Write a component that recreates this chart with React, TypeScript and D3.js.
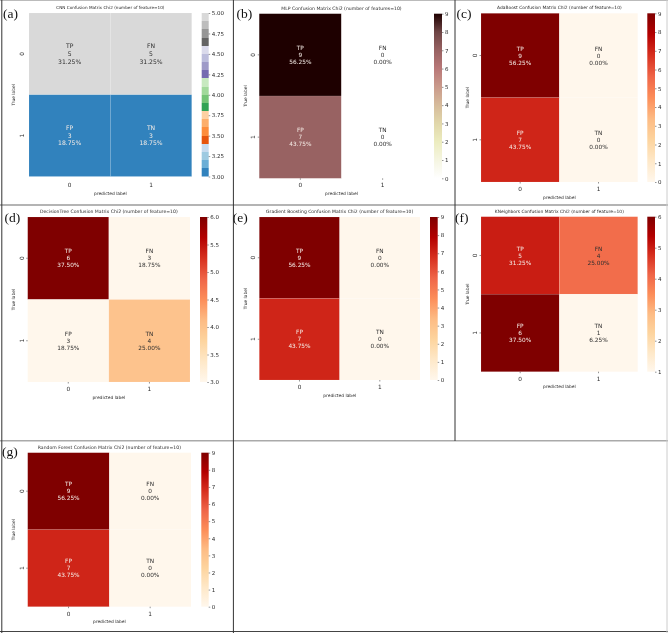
import { useEffect, useRef } from 'react'
import * as d3 from 'd3'

// confusion matrices: [[TP, FN], [FP, TN]]
const cnnValues = [[5, 5], [3, 3]]
const mlpValues = [[9, 0], [7, 0]]
const adaValues = [[9, 0], [7, 0]]
const treeValues = [[6, 3], [3, 4]]
const boostValues = [[9, 0], [7, 0]]
const knnValues = [[5, 4], [6, 1]]
const forestValues = [[9, 0], [7, 0]]

const cellNames = [['TP', 'FN'], ['FP', 'TN']]
const classLabels = ['0', '1']

const cnnTicks = [3, 3.25, 3.5, 3.75, 4, 4.25, 4.5, 4.75, 5]
const treeTicks = [3, 3.5, 4, 4.5, 5, 5.5, 6]
const nineTicks = [0, 1, 2, 3, 4, 5, 6, 7, 8, 9]
const knnTicks = [1, 2, 3, 4, 5, 6]

const orRd = ['#fff7ec', '#fee8c8', '#fdd49e', '#fdbb84', '#fc8d59', '#ef6548', '#d7301f', '#b30000', '#7f0000']
const pinkR = ['#ffffff', '#f5f5e1', '#ececbf', '#e1d7aa', '#d6bb9b', '#ca9a8b', '#b97878', '#986262', '#6e4545', '#1e0000']
const tab20c = [
  '#3182bd', '#6baed6', '#9ecae1', '#c6dbef',
  '#e6550d', '#fd8d3c', '#fdae6b', '#fdd0a2',
  '#31a354', '#74c476', '#a1d99b', '#c7e9c0',
  '#756bb1', '#9e9ac8', '#bcbddc', '#dadaeb',
  '#636363', '#969696', '#bdbdbd', '#d9d9d9'
]

const smooth = (stops: string[]) =>
  d3.piecewise(d3.interpolateRgb, stops)

const discrete = (stops: string[]) => (t: number) =>
  stops[Math.min(stops.length - 1, Math.floor(t * stops.length))]

type Panel = {
  tag: string
  title: string
  titleSize: number
  values: number[][]
  ticks: number[]
  format: string
  stops: string[]
  banded: boolean
  x: [number, number]
  y: [number, number]
  bar: [number, number]
  tagAt: [number, number]
  tickSize: number
  tickPad: number
  annotSize: number
  annotGap: number
  xLabelGap: number
  yLabelGap: number
}

const plain = { tickSize: 1.5, tickPad: 3.5, annotSize: 5.8, annotGap: 7, xLabelGap: 16.5, yLabelGap: 12.5, stops: orRd, banded: false }

const panels: Panel[] = [
  { ...plain, tag: '(a)', title: 'CNN Confusion Matrix Chi2 (number of feature=10)', titleSize: 4.2, values: cnnValues, ticks: cnnTicks, format: '.2f', stops: tab20c, banded: true, x: [29, 191.7], y: [13, 176.5], bar: [201.7, 208.7], tagAt: [3, 18], tickSize: 0, tickPad: 6.5, annotSize: 6.1, annotGap: 7.6, xLabelGap: 18, yLabelGap: 14 },
  { ...plain, tag: '(b)', title: 'MLP Confusion Matrix Chi2 (number of features=10)', titleSize: 4.6, values: mlpValues, ticks: nineTicks, format: 'd', stops: pinkR, x: [259.2, 423.8], y: [13.7, 178.3], bar: [434, 442], tagAt: [236.5, 18] },
  { ...plain, tag: '(c)', title: 'AdaBoost Confusion Matrix Chi2 (number of feature=10)', titleSize: 4.4, values: adaValues, ticks: nineTicks, format: 'd', x: [481, 637.7], y: [13.3, 182], bar: [647.3, 655], tagAt: [456.5, 18] },
  { ...plain, tag: '(d)', title: 'DecisionTree Confusion Matrix Chi2 (number of feature=10)', titleSize: 4.6, values: treeValues, ticks: treeTicks, format: '.1f', x: [27.7, 190], y: [217, 382], bar: [200, 207.3], tagAt: [4.5, 222] },
  { ...plain, tag: '(e)', title: 'Gradient Boosting Confusion Matrix Chi2 (number of feature=10)', titleSize: 4.5, values: boostValues, ticks: nineTicks, format: 'd', x: [259.3, 420], y: [217, 380], bar: [430, 437.7], tagAt: [232.7, 222] },
  { ...plain, tag: '(f)', title: 'KNeighbors Confusion Matrix Chi2 (number of feature=10)', titleSize: 4.4, values: knnValues, ticks: knnTicks, format: 'd', x: [481, 637.7], y: [216.7, 371.7], bar: [647.3, 655], tagAt: [455, 222] },
  { ...plain, tag: '(g)', title: 'Random Forest Confusion Matrix Chi2 (number of feature=10)', titleSize: 4.6, values: forestValues, ticks: nineTicks, format: 'd', x: [27.7, 191], y: [452.7, 606.7], bar: [201.3, 208.7], tagAt: [2, 456] }
]

const sansFont = '"DejaVu Sans", sans-serif'
const inkColor = '#2a2a2a'

const App = () => {
  const svgRef = useRef<SVGSVGElement>(null)

  useEffect(() => {
    if (!svgRef.current) return
    const svg = d3.select(svgRef.current)
    svg.selectAll('*').remove()
    const defs = svg.append('defs')

    // panel frame rules
    const rules = svg.append('g')
    const rule = (x1: number, y1: number, x2: number, y2: number, color: string, width: number) =>
      rules.append('line').attr('x1', x1).attr('y1', y1).attr('x2', x2).attr('y2', y2)
        .attr('stroke', color).attr('stroke-width', width)

    rule(0, 0.5, 668, 0.5, '#bbb', 1)
    rule(0, 205, 668, 205, '#b4b4b4', 2)
    rule(0, 440.7, 668, 440.7, '#aaa', 1.5)
    rule(0, 631.5, 668, 631.5, '#444', 1)
    rule(667, 0, 667, 633, '#ccc', 1)
    rule(1.8, 0, 1.8, 633, '#333', 1)
    rule(233.4, 0, 233.4, 633, '#333', 1)
    rule(455, 0, 455, 441, '#333', 1)

    panels.forEach((p, idx) => {
      const g = svg.append('g')
      const x = d3.scaleBand<string>().domain(classLabels).range(p.x)
      const y = d3.scaleBand<string>().domain(classLabels).range(p.y)
      const extent = d3.extent(p.values.flat()) as [number, number]
      const cmap = p.banded ? discrete(p.stops) : smooth(p.stops)
      const color = d3.scaleSequential(cmap).domain(extent)
      const total = d3.sum(p.values.flat())

      classLabels.forEach((row, r) => {
        classLabels.forEach((col, c) => {
          const v = p.values[r][c]
          const fill = color(v)
          g.append('rect')
            .attr('x', x(col)!)
            .attr('y', y(row)!)
            .attr('width', x.bandwidth())
            .attr('height', y.bandwidth())
            .attr('fill', fill)
            .attr('stroke', '#fff')
            .attr('stroke-opacity', 0.2)
            .attr('stroke-width', 0.5)

          const lines = [cellNames[r][c], String(v), d3.format('.2%')(v / total)]
          const cx = x(col)! + x.bandwidth() / 2
          const cy = y(row)! + y.bandwidth() / 2
          lines.forEach((line, i) => {
            g.append('text')
              .attr('x', cx)
              .attr('y', cy + (i - 1) * p.annotGap)
              .attr('dy', '0.36em')
              .attr('text-anchor', 'middle')
              .attr('font-family', sansFont)
              .attr('font-size', p.annotSize)
              .attr('fill', d3.lab(fill).l < 60 ? '#f5ece6' : '#2e2e2e')
              .text(line)
          })
        })
      })

      // axes
      const xAxis = g.append('g')
        .attr('transform', `translate(0,${p.y[1]})`)
        .call(d3.axisBottom(x).tickSize(p.tickSize).tickPadding(p.tickPad))
      const yAxis = g.append('g')
        .attr('transform', `translate(${p.x[0]},0)`)
        .call(d3.axisLeft(y).tickSize(p.tickSize).tickPadding(p.tickPad))
      xAxis.selectAll('text').attr('font-size', 5.8)
      yAxis.selectAll('text')
        .attr('font-size', 5.8)
        .attr('transform', function () {
          const t = d3.select(this)
          return `rotate(-90,${t.attr('x')},0)`
        })
        .attr('text-anchor', 'middle')
        .attr('dy', '0.2em')
      ;[xAxis, yAxis].forEach(a => {
        a.select('.domain').remove()
        a.attr('font-family', sansFont)
        a.selectAll('text').attr('fill', inkColor)
        a.selectAll('line').attr('stroke', inkColor).attr('stroke-width', 0.5)
      })

      const midX = (p.x[0] + p.x[1]) / 2
      const midY = (p.y[0] + p.y[1]) / 2

      g.append('text')
        .attr('x', midX)
        .attr('y', p.y[1] + p.xLabelGap)
        .attr('text-anchor', 'middle')
        .attr('font-family', sansFont)
        .attr('font-size', 4.4)
        .attr('fill', inkColor)
        .text('predicted label')

      g.append('text')
        .attr('transform', `translate(${p.x[0] - p.yLabelGap},${midY}) rotate(-90)`)
        .attr('text-anchor', 'middle')
        .attr('font-family', sansFont)
        .attr('font-size', 4.4)
        .attr('fill', inkColor)
        .text('True label')

      g.append('text')
        .attr('x', midX)
        .attr('y', p.y[0] - 4)
        .attr('text-anchor', 'middle')
        .attr('font-family', sansFont)
        .attr('font-size', p.titleSize)
        .attr('fill', inkColor)
        .text(p.title)

      g.append('text')
        .attr('x', p.tagAt[0])
        .attr('y', p.tagAt[1])
        .attr('font-family', '"Liberation Serif", serif')
        .attr('font-size', 13.5)
        .attr('fill', '#111')
        .text(p.tag)

      // colorbar: hard stops for the banded map, plain gradient for the others
      const gradient = defs.append('linearGradient')
        .attr('id', `bar-${idx}`)
        .attr('x1', 0).attr('y1', 1).attr('x2', 0).attr('y2', 0)
      const n = p.stops.length
      p.stops.forEach((c, i) => {
        if (p.banded) {
          gradient.append('stop').attr('offset', i / n).attr('stop-color', c)
          gradient.append('stop').attr('offset', (i + 1) / n).attr('stop-color', c)
        } else {
          gradient.append('stop').attr('offset', i / (n - 1)).attr('stop-color', c)
        }
      })
      g.append('rect')
        .attr('x', p.bar[0])
        .attr('y', p.y[0])
        .attr('width', p.bar[1] - p.bar[0])
        .attr('height', p.y[1] - p.y[0])
        .attr('fill', `url(#bar-${idx})`)

      const barY = d3.scaleLinear().domain(extent).range([p.y[1], p.y[0]])
      const barAxis = g.append('g')
        .attr('transform', `translate(${p.bar[1]},0)`)
        .call(d3.axisRight(barY).tickValues(p.ticks).tickFormat(d3.format(p.format) as any).tickSize(1.5).tickPadding(1.5))
      barAxis.select('.domain').remove()
      barAxis.attr('font-family', sansFont)
      barAxis.selectAll('text').attr('font-size', 5.5).attr('fill', inkColor)
      barAxis.selectAll('line').attr('stroke', inkColor).attr('stroke-width', 0.5)
    })
  }, [])

  return (
    <svg
      ref={svgRef}
      width={668}
      height={633}
      viewBox="0 0 668 633"
      style={{ position: 'absolute', left: 0, top: 0, background: '#fff', filter: 'blur(0.35px)' }}
    />
  )
}

export default App
